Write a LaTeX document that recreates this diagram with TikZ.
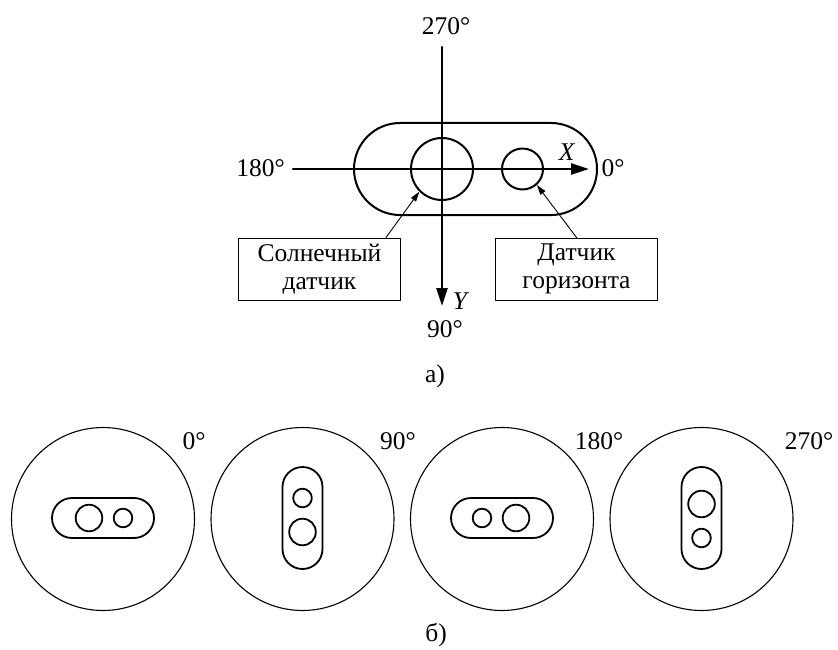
\documentclass[tikz,border=0pt]{standalone}
\usepackage{fontspec}
\setmainfont{Liberation Serif}
\usepackage{tikz}
\usetikzlibrary{arrows.meta,calc,positioning}
\tikzset{
  axis/.style={line width=2.4pt, -{Triangle[length=18pt,width=11pt]}},
  leader/.style={line width=0.9pt, -{Triangle[length=10pt,width=6pt]}},
  sens/.style={circle, draw, line width=2pt, inner sep=0pt},
  tag/.style={draw, line width=1pt, align=center, minimum width=162pt, minimum height=62pt, inner sep=2pt},
  dial/.style={circle, draw, line width=1.1pt, minimum size=183pt, inner sep=0pt},
  every picture/.style={line cap=round, line join=round}
}

\begin{document}
\begin{tikzpicture}[x=1pt, y=-1pt, font=\fontsize{25.5}{28.5}\selectfont]
  \useasboundingbox (0,0) rectangle (838,650);

  % body
  \draw[line width=2pt, rounded corners=46pt] (354,123) rectangle (597,215);
  \node[sens, minimum size=62pt] (sun) at (442,169) {};
  \node[sens, minimum size=41pt] (hor) at (522.5,169) {};

  % axes
  \coordinate (xs) at (293,169);
  \coordinate (xe) at (589,169);
  \coordinate (ys) at (442,47);
  \coordinate (ye) at (442,306);
  \draw[axis] (xs) -- (xe);
  \draw[axis] (ys) -- (ye);
  \node (a180) at (260.5,168) {180°};
  \node (a0) at (613,168) {0°};
  \node (a270) at (446,26) {270°};
  \node (a90) at (445,329) {90°};
  \node (lx) at (567,152) {\textit{X}};
  \node (ly) at (461,301) {\textit{Y}};

  % tags
  \node[tag] (sunbox) at (319.5,269) {Солнечный\\датчик};
  \node[tag] (horbox) at (576.5,269) {Датчик\\горизонта};
  \draw[leader] ([xshift=-15pt]sunbox.north east) -- (sun.225);
  \draw[leader] (horbox.north) -- (hor.-48);
  \node (capa) at (435,376) {а)};

  % rotations
  \foreach \ang/\cx/\lx in {0/103/194, 90/302.5/398, 180/502/599, 270/701.5/809}{
    \node[dial] (d\ang) at (\cx,519) {};
    \node (t\ang) at (\lx,441) {{\ang}°};
    \begin{scope}[shift={(\cx,518)}, rotate=\ang]
      \draw[line width=1.8pt, rounded corners=20pt] (-51,-20) rectangle (51,20);
      \draw[line width=1.8pt] (-14,0) circle[radius=13.3] (20,0) circle[radius=9.3];
    \end{scope}
  }
  \node (capb) at (436,635) {б)};
\end{tikzpicture}
\end{document}
